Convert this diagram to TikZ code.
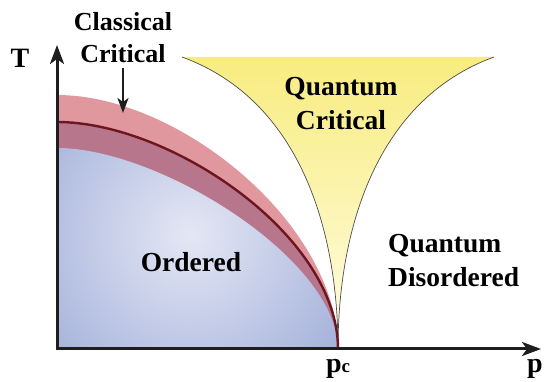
\documentclass[tikz,border=0pt]{standalone}
\usepackage{fontspec}
\newfontfamily\lblfont{Liberation Serif}
\usetikzlibrary{arrows.meta}
\definecolor{pinkband}{RGB}{224,152,158}
\definecolor{mauveband}{RGB}{184,118,140}
\definecolor{bluedark}{RGB}{163,176,218}
\definecolor{bluelight}{RGB}{228,231,244}
\definecolor{yellowtop}{RGB}{248,236,128}
\definecolor{yellowbot}{RGB}{255,253,228}
\definecolor{critline}{RGB}{110,22,32}
\definecolor{axiscol}{RGB}{30,30,30}
\tikzset{
  lbl/.style={font=\lblfont\bfseries\fontsize{26}{32}\selectfont, inner sep=0pt, align=center},
  lblq/.style={font=\lblfont\bfseries\fontsize{27.5}{34}\selectfont},
  big/.style={font=\lblfont\bfseries\fontsize{28}{28}\selectfont},
  axisline/.style={line width=3pt, draw=axiscol, line join=miter,
     {Stealth[length=19pt,width=14pt,inset=5pt]}-{Stealth[length=19pt,width=14pt,inset=5pt]}},
  ptr/.style={line width=2pt, draw=axiscol, -{Stealth[length=15pt,width=11pt,inset=4pt]}},
  qcline/.style={line width=0.7pt, draw=black!70},
  crit/.style={line width=2.4pt, draw=critline}
}
\begin{document}
\begin{tikzpicture}[x=1pt,y=-1pt]
\useasboundingbox (0,0) rectangle (544,382);
\coordinate (O) at (57,349);
\coordinate (pc) at (338,349);
\coordinate (ytip) at (57,45);
\coordinate (xtip) at (541,349);
% quantum critical fan
\shade[top color=yellowtop, bottom color=yellowbot]
  (pc) .. controls (338,230) and (300,100) .. (182,57)
  -- (494,57) .. controls (376,100) and (338,230) .. (pc) -- cycle;
\draw[qcline] (pc) .. controls (338,230) and (300,100) .. (182,57);
\draw[qcline] (pc) .. controls (338,230) and (376,100) .. (494,57);
% classical critical band
\fill[pinkband] (O) -- (57,95) .. controls (180,95) and (338,225) .. (pc) -- cycle;
\fill[mauveband] (O) -- (57,122) .. controls (170,122) and (338,235) .. (pc) -- cycle;
% ordered region
\begin{scope}
  \clip (O) -- (57,148) .. controls (160,148) and (338,260) .. (pc) -- cycle;
  \shade[inner color=bluelight, outer color=bluedark] (190,235) circle (190);
\end{scope}
\draw[crit] (57,122) .. controls (170,122) and (338,235) .. (pc);
% axes
\draw[axisline] (ytip) -- (O) -- (xtip);
% labels
\node[lbl, big, anchor=base] (T) at (20,68) {T};
\node[lbl, big, anchor=base] (p) at (535,373) {p};
\node[lbl, big, anchor=base] (pclbl) at (338,373) {p{\fontsize{19}{19}\selectfont c}};
\node[lbl, anchor=base] (cc) at (123,63) {Classical\\Critical};
\coordinate (cctip) at (123,113);
\draw[ptr] (123,68) -- (cctip);
\node[lbl, lblq, anchor=base] (qc) at (341,130) {Quantum\\Critical};
\node[lbl, lblq, align=left, anchor=base west] (qd) at (388,287) {Quantum\\Disordered};
\node[lbl, lblq, anchor=base] (ord) at (191,272) {Ordered};
\end{tikzpicture}
\end{document}
